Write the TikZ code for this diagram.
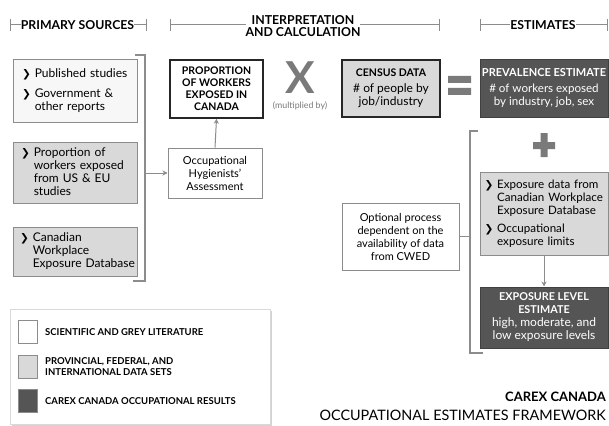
\documentclass[tikz,border=0pt]{standalone}
\usepackage{fontspec}
\setmainfont{Lato}
\newfontfamily\dejavu{DejaVu Sans}
\usetikzlibrary{shadows,arrows.meta}
\definecolor{lightg}{HTML}{D9D9D9}
\definecolor{darkg}{HTML}{555555}
\definecolor{gline}{HTML}{8C8C8C}
\definecolor{symg}{HTML}{7A7A7A}
\newcommand{\chev}{{\dejavu\bfseries\fontsize{10.5}{10}\selectfont ❯}}
\newcommand{\chind}{\phantom{\chev~}}
\begin{document}
\begin{tikzpicture}[x=1pt,y=-1pt,
  every node/.style={font=\fontsize{11}{13}\selectfont},
  gbox/.style={draw=gline, line width=1pt, inner sep=0pt, align=left},
  bbox/.style={draw=black!85, line width=1.5pt, inner sep=0pt, align=center},
  dbox/.style={draw=black!75, fill=darkg, line width=1pt, inner sep=0pt, align=center, text=white},
  hdr/.style={font=\fontsize{12.3}{11.5}\selectfont\bfseries, inner sep=0pt, align=center},
  big/.style={font=\fontsize{12}{13}\selectfont},
  mid/.style={font=\fontsize{11.6}{13}\selectfont},
  con/.style={draw=gline, line width=1.5pt},
  arr/.style={draw=gline, line width=1pt, -{Stealth[length=5pt,width=5pt]}},
  tick/.style={draw=gline, line width=1pt}
]
\useasboundingbox (0,0) rectangle (609,425);
\fill[white] (0,0) rectangle (609,425);

% headers
\node[hdr] (h1) at (77.5,25) {PRIMARY SOURCES};
\draw[tick] (10,19) -- (10,31) (10,25) -- (h1.west);
\draw[tick] (h1.east) -- (146,25) (146,19) -- (146,31);
\node[hdr] (h2) at (303,26) {INTERPRETATION\\AND CALCULATION};
\draw[tick] (170,19) -- (170,31) (170,25) -- (246,25);
\draw[tick] (360,25) -- (439,25) (439,19) -- (439,31);
\node[hdr] (h3) at (543,25) {ESTIMATES};
\draw[tick] (480,19) -- (480,31) (480,25) -- (h3.west);
\draw[tick] (h3.east) -- (607,25) (607,19) -- (607,31);

% primary sources
\node[gbox, big, fill=white!97!black, minimum width=124pt, minimum height=62pt, text width=106pt] (s1) at (75,91)
  {\chev~Published studies\\[7pt]\chev~Government \&\\\chind other reports};
\node[gbox, big, fill=lightg, minimum width=124pt, minimum height=61pt, text width=108pt] (s2) at (75,172.5)
  {\chev~Proportion of\\\chind workers exposed\\\chind from US \& EU\\\chind studies};
\node[gbox, big, fill=lightg, minimum width=124pt, minimum height=49pt, text width=110pt] (s3) at (75,251.5)
  {\chev~Canadian\\\chind Workplace\\\mbox{\chind Exposure~Database}};
\coordinate (bt) at (135,55);
\coordinate (bb) at (133,281);
\coordinate (bm) at (145,173);
\draw[con] (bt) -- (145,55) -- (145,281) -- (bb);

% interpretation
\node[gbox, align=center, fill=white, minimum width=94pt, minimum height=50pt] (hyg) at (215,173)
  {Occupational\\Hygienists'\\Assessment};
\draw[arr] (bm) -- (hyg.west);
\node[bbox, fill=white, minimum width=93pt, minimum height=58pt, font=\fontsize{10.5}{12}\selectfont\bfseries] (prop) at (216.5,89)
  {PROPORTION\\OF WORKERS\\EXPOSED IN\\CANADA};
\draw[arr] (hyg.north) -- (prop.south);
\node[text=symg, font=\fontsize{44}{44}\selectfont\bfseries, inner sep=0pt] (x) at (300,78) {X};
\node[text=symg, font=\fontsize{8.8}{9}\selectfont, inner sep=0pt] (mul) at (300,106) {(multiplied by)};
\node[bbox, big, fill=lightg, minimum width=98pt, minimum height=57pt] (cen) at (391,88.5)
  {\textbf{\fontsize{10.5}{12}\selectfont CENSUS DATA}\\[3pt]\# of people by\\job/industry};
\fill[symg] (448,76) rectangle (471,83) (448,88) rectangle (471,95);
\node[dbox, mid, minimum width=128pt, minimum height=57pt] (prev) at (544,88.5)
  {\textbf{\fontsize{11}{12}\selectfont PREVALENCE ESTIMATE}\\[3pt]\# of workers exposed\\by industry, job, sex};

% estimates
\coordinate (et) at (478,131);
\coordinate (eb) at (483,353);
\coordinate (em) at (470,236.5);
\draw[con] (et) -- (470,131) -- (470,353) -- (eb);
\fill[symg] (540.5,133) rectangle (547.5,157) (533,142) rectangle (555,149);
\node[gbox, mid, fill=lightg, minimum width=128pt, minimum height=83pt, text width=119pt] (expd) at (544,213.5)
  {\chev~Exposure data from\\\chind Canadian Workplace\\\chind Exposure Database\\[5pt]\chev~Occupational\\\chind exposure limits};
\node[dbox, big, minimum width=128pt, minimum height=61pt] (lvl) at (544,317.5)
  {\textbf{\fontsize{10.8}{12}\selectfont EXPOSURE LEVEL}\\\textbf{\fontsize{10.8}{12}\selectfont ESTIMATE}\\high, moderate, and\\low exposure levels};
\draw[arr] (expd.south) -- (lvl.north);
\node[gbox, align=center, fill=white, minimum width=117pt, minimum height=67pt] (opt) at (400.5,236.5)
  {Optional process\\dependent on the\\availability of data\\from CWED};
\draw[con, line width=1pt] (opt.east) -- (em);

% legend
\node[draw=black!15, fill=white, drop shadow={opacity=0.35, shadow xshift=1.5pt, shadow yshift=-1.5pt}, minimum width=260pt, minimum height=115pt, inner sep=0pt] (leg) at (140,366.5) {};
\tikzset{sw/.style={draw=gline, line width=1pt, minimum width=19pt, minimum height=23pt, inner sep=0pt},
  lt/.style={anchor=west, inner sep=0pt, align=left, font=\fontsize{9.5}{11}\selectfont\bfseries}}
\node[sw, fill=white] (w1) at (27.5,331.5) {};
\node[sw, fill=lightg] (w2) at (27.5,366.5) {};
\node[sw, fill=darkg] (w3) at (27.5,401) {};
\node[lt] (l1) at (45,332) {SCIENTIFIC AND GREY LITERATURE};
\node[lt] (l2) at (45,366.5) {PROVINCIAL, FEDERAL, AND\\INTERNATIONAL DATA SETS};
\node[lt] (l3) at (45,401.5) {CAREX CANADA OCCUPATIONAL RESULTS};

% footer
\node[anchor=east, inner sep=0pt, font=\fontsize{13}{13}\selectfont\bfseries] (f1) at (606,397) {CAREX CANADA};
\node[anchor=east, inner sep=0pt, font=\fontsize{14.4}{13}\selectfont] (f2) at (606,415) {OCCUPATIONAL ESTIMATES FRAMEWORK};
\end{tikzpicture}
\end{document}
